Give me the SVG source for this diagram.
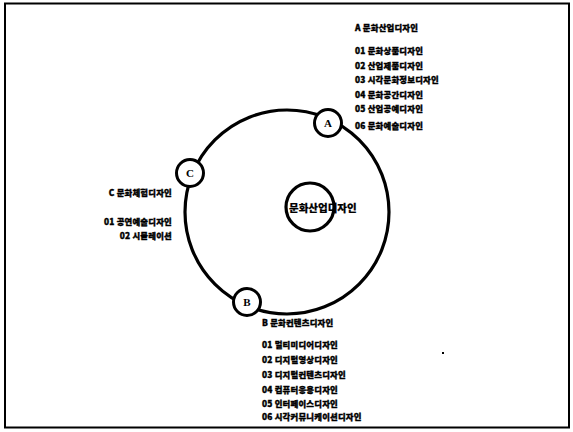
<svg xmlns="http://www.w3.org/2000/svg" width="573" height="432" viewBox="0 0 573 432">
<style>
.lbl{font-family:"Noto Sans CJK KR","Liberation Sans",sans-serif;font-size:8.4px;font-weight:900;letter-spacing:0.2px;fill:#000;stroke:#000;stroke-width:0.35px}
.ring{fill:none;stroke:#000;stroke-width:3.2}
.node{fill:#fff;stroke:#000;stroke-width:3}
.letter{font-family:"Liberation Serif",serif;font-size:11px;font-weight:bold;text-anchor:middle;fill:#000}
.ctr{font-family:"Noto Sans CJK KR","Liberation Sans",sans-serif;font-size:10.5px;font-weight:900;fill:#000;stroke:#000;stroke-width:0.2px}
</style>
<rect x="0" y="0" width="573" height="432" fill="#fff"/>
<rect x="5" y="3.5" width="564" height="424" fill="none" stroke="#000" stroke-width="2"/>
<g id="connectors">
<circle class="ring" cx="287" cy="212" r="102"/>
</g>
<g id="center">
<circle class="ring" cx="310" cy="207" r="24"/>
<text class="ctr" x="289" y="212">문화산업디자인</text>
</g>
<g id="nodeA">
<circle class="node" cx="328" cy="123" r="13.5"/>
<text class="letter" x="328" y="127">A</text>
</g>
<g id="nodeC">
<circle class="node" cx="190" cy="173" r="13.5"/>
<text class="letter" x="190" y="177">C</text>
</g>
<g id="nodeB">
<circle class="node" cx="247" cy="302" r="13.5"/>
<text class="letter" x="247" y="306">B</text>
</g>
<g id="labelsA" class="lbl">
<text x="355" y="31">A 문화산업디자인</text>
<text x="355" y="54">01 문화상품디자인</text>
<text x="355" y="69">02 산업제품디자인</text>
<text x="355" y="83">03 시각문화정보디자인</text>
<text x="355" y="98">04 문화공간디자인</text>
<text x="355" y="112">05 산업공예디자인</text>
<text x="355" y="129">06 문화예술디자인</text>
</g>
<g id="labelsC" class="lbl" text-anchor="end">
<text x="172" y="196">C 문화체험디자인</text>
<text x="172" y="225">01 공연예술디자인</text>
<text x="172" y="239">02 시뮬레이션</text>
</g>
<g id="labelsB" class="lbl">
<text x="262" y="326">B 문화컨텐츠디자인</text>
<text x="262" y="348">01 멀티미디어디자인</text>
<text x="262" y="363">02 디지털영상디자인</text>
<text x="262" y="378">03 디지털컨텐츠디자인</text>
<text x="262" y="393">04 컴퓨터응용디자인</text>
<text x="262" y="407">05 인터페이스디자인</text>
<text x="262" y="420">06 시각커뮤니케이션디자인</text>
</g>
<rect x="442" y="352" width="2" height="2" fill="#000"/>
</svg>
